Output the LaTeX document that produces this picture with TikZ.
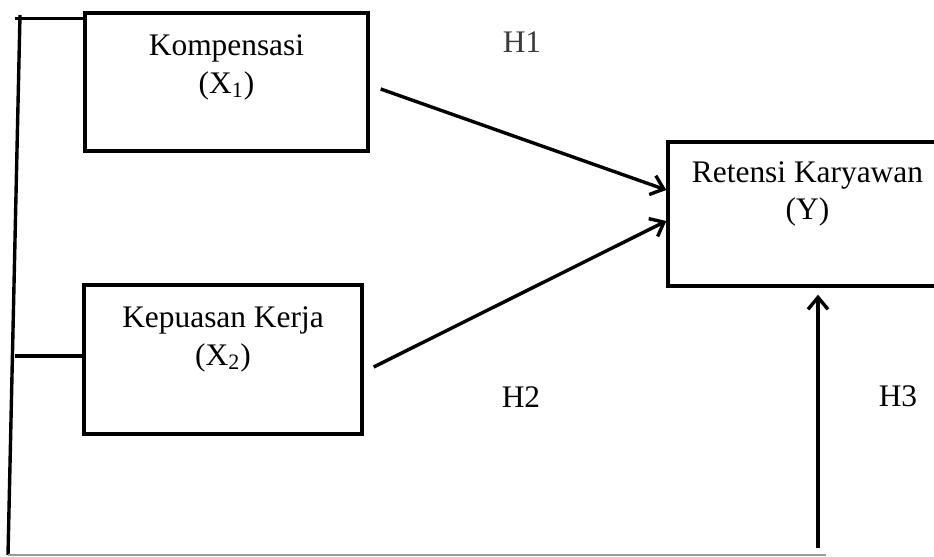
\documentclass[tikz,border=0pt]{standalone}
\usepackage{fontspec}
\setmainfont{Liberation Serif}
\usetikzlibrary{arrows.meta,positioning,calc}
\definecolor{labelgray}{HTML}{3A3A3A}
\definecolor{linegray}{HTML}{9A9A9A}

\begin{document}
\begin{tikzpicture}[x=0.5pt, y=-0.5pt, line width=1.7pt,
        varbox/.style={draw, rectangle, inner sep=0pt},
        vartext/.style={align=center, anchor=base, inner sep=0pt, font=\fontsize{15.7}{19}\selectfont},
        hlabel/.style={anchor=base, inner sep=0pt, font=\fontsize{15.7}{19}\selectfont},
        patharrow/.style={-{Straight Barb[length=6pt,width=10pt]}}]
        \useasboundingbox (0,0) rectangle (934,557);

        % variable boxes
        \node[varbox, minimum width=141.5pt, minimum height=69pt] (komp) at (226.5,82) {};
        \node[varbox, minimum width=139pt, minimum height=74.5pt] (kepu) at (223,359.5) {};
        \node[varbox, minimum width=146pt, minimum height=72pt] (rete) at (814,214) {};

        \node[vartext] (kompt) at (226.5,93) {Kompensasi\\(X\textsubscript{1})};
        \node[vartext] (keput) at (223,365) {Kepuasan Kerja\\(X\textsubscript{2})};
        \node[vartext] (retet) at (807.5,220) {Retensi Karyawan\\(Y)};

        % hypotheses
        \node[hlabel, text=labelgray] (h1) at (522,53) {H1};
        \node[hlabel] (h2) at (521,407) {H2};
        \node[hlabel] (h3) at (898,406) {H3};

        % left bracket
        \coordinate (ltop) at (20,15);
        \coordinate (lbot) at (8,555);
        \coordinate (rbot) at (826,555);
        \coordinate (h3foot) at (818,548);
        \draw (ltop) -- (lbot);
        \draw ($(komp.north west)+(-68,7)$) -- ($(komp.north west)+(0,7)$);
        \draw ($(kepu.west)+(-67,-3.5)$) -- ($(kepu.west)+(0,-3.5)$);
        \draw[linegray, line width=1pt] (lbot) -- (rbot);

        % paths
        \draw[patharrow] ($(komp.east)+(11,7)$) -- ($(rete.west)+(0,-24)$);
        \draw[patharrow] ($(kepu.east)+(10,7.5)$) -- ($(rete.west)+(0,7)$);
        \draw[patharrow, shorten >=3.5pt] (h3foot) -- (h3foot |- rete.south);
\end{tikzpicture}
\end{document}
